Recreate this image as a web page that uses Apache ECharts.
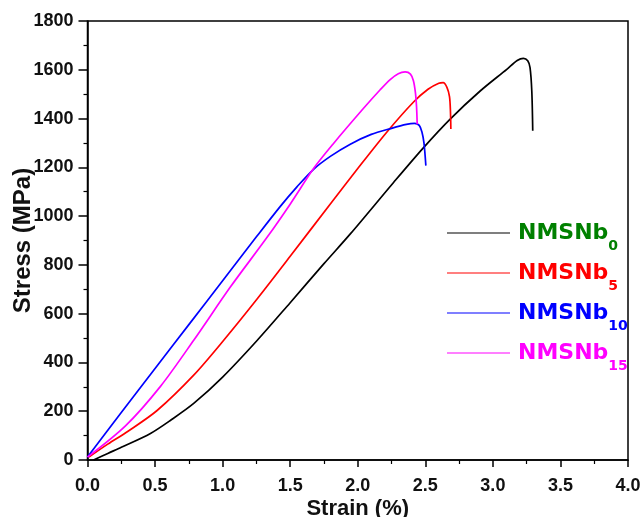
<!DOCTYPE html>
<html>
<head>
<meta charset="utf-8">
<script src="https://cdn.jsdelivr.net/npm/echarts@6/dist/echarts.min.js"></script>
<style>
  html, body { margin: 0; padding: 0; background: #fff; }
  #chart { width: 644px; height: 517px; }
</style>
</head>
<body>
<div id="chart"></div>
<script>
// Tensile stress-strain curves: strain (%) and stress (MPa) pairs per alloy
const strainNb0 = [0.045, 0.15, 0.25, 0.466, 0.62, 0.786, 1.0, 1.255, 1.5, 1.75, 1.945, 2.265, 2.487, 2.684, 2.906, 3.103, 3.18, 3.226, 3.258, 3.275, 3.288, 3.295];
const stressNb0 = [0, 27, 52, 109, 165, 232, 340, 490, 645, 805, 927, 1138, 1281, 1398, 1513, 1602, 1638, 1647, 1637, 1609, 1513, 1350];

const strainNb5 = [0.01, 0.15, 0.3, 0.515, 0.786, 1.008, 1.255, 1.5, 1.797, 2.0, 2.216, 2.413, 2.52, 2.6, 2.632, 2.66, 2.679, 2.686, 2.689];
const stressNb5 = [12, 65, 118, 203, 348, 491, 660, 835, 1050, 1195, 1345, 1468, 1520, 1545, 1547, 1528, 1490, 1430, 1357];

const strainNb10 = [0.0, 0.25, 0.5, 0.75, 1.0, 1.25, 1.427, 1.55, 1.673, 1.797, 1.945, 2.1, 2.25, 2.36, 2.42, 2.455, 2.475, 2.49, 2.504];
const stressNb10 = [12, 195, 375, 555, 735, 915, 1040, 1120, 1192, 1245, 1295, 1335, 1360, 1376, 1380, 1372, 1345, 1300, 1207];

const strainNb15 = [0.0, 0.281, 0.54, 0.786, 1.057, 1.329, 1.501, 1.673, 1.821, 2.043, 2.166, 2.24, 2.3, 2.351, 2.39, 2.412, 2.427, 2.435, 2.44];
const stressNb15 = [12, 140, 302, 491, 709, 913, 1050, 1195, 1298, 1442, 1518, 1560, 1584, 1591, 1582, 1555, 1505, 1450, 1377];

const yTickLabels = ['0', '200', '400', '600', '800', '1000', '1200', '1400', '1600', '1800'];

const seriesNames = ['NMSNb0', 'NMSNb5', 'NMSNb10', 'NMSNb15'];
const lineColors = ['#000000', '#ff0000', '#0000ff', '#ff00ff'];
const labelColors = ['#008000', '#ff0000', '#0000ff', '#ff00ff'];

function pairs(xs, ys) {
  return xs.map((x, i) => [x, ys[i]]);
}
const curves = [
  pairs(strainNb0, stressNb0),
  pairs(strainNb5, stressNb5),
  pairs(strainNb10, stressNb10),
  pairs(strainNb15, stressNb15)
];

const chart = echarts.init(document.getElementById('chart'), null, { renderer: 'canvas' });

const axisFont = { fontFamily: 'Liberation Sans, Arial, sans-serif', fontWeight: 'bold', color: '#111' };

chart.setOption({
  backgroundColor: '#ffffff',
  animation: false,
  grid: {
    left: 87.5, right: 16, top: 21, bottom: 57,
    containLabel: false, outerBoundsMode: 'none',
    show: true, borderColor: '#000', borderWidth: 1.5
  },
  legend: {
    orient: 'vertical',
    left: 447, top: 222, padding: 0,
    itemWidth: 63, itemHeight: 10, itemGap: 9,
    icon: 'path://M0,4.5 L63,4.5 L63,5.5 L0,5.5 Z',
    data: seriesNames.map((n, i) => ({
      name: n,
      textStyle: { color: labelColors[i] }
    })),
    formatter: name => '{a|NMSNb}{s|' + name.slice(5) + '}',
    textStyle: {
      rich: {
        a: {
          fontFamily: 'DejaVu Sans, sans-serif', fontWeight: 'bold',
          fontSize: 22, lineHeight: 40, verticalAlign: 'middle', padding: [0, 0, 0, 3]
        },
        s: {
          fontFamily: 'DejaVu Sans, sans-serif', fontWeight: 'bold',
          fontSize: 14, lineHeight: 24, verticalAlign: 'bottom'
        }
      }
    }
  },
  xAxis: {
    type: 'value',
    min: 0, max: 4, interval: 0.5,
    name: 'Strain (%)',
    nameLocation: 'middle', nameGap: 38, nameMoveOverlap: false,
    nameTextStyle: Object.assign({ fontSize: 22 }, axisFont),
    axisLine: { show: true, lineStyle: { color: '#000', width: 1.5 } },
    axisTick: { show: true, inside: false, length: 7, lineStyle: { color: '#000', width: 1.5 } },
    minorTick: { show: true, splitNumber: 2, length: 4, lineStyle: { color: '#000', width: 1.2 } },
    splitLine: { show: false },
    axisLabel: Object.assign({ fontSize: 18, margin: 17, formatter: v => v.toFixed(1) }, axisFont)
  },
  yAxis: {
    type: 'value',
    min: 0, max: 1800, interval: 200,
    name: 'Stress (MPa)',
    nameLocation: 'middle', nameGap: 52, nameMoveOverlap: false,
    nameTextStyle: Object.assign({ fontSize: 24 }, axisFont),
    axisLine: { show: true, lineStyle: { color: '#000', width: 1.5 } },
    axisTick: { show: true, inside: false, length: 9, lineStyle: { color: '#000', width: 1.5 } },
    minorTick: { show: true, splitNumber: 2, length: 4, lineStyle: { color: '#000', width: 1.2 } },
    splitLine: { show: false },
    axisLabel: Object.assign({
      fontSize: 18, margin: 14,
      formatter: v => yTickLabels[Math.round(v / 200)]
    }, axisFont)
  },
  series: curves.map((data, i) => ({
    name: seriesNames[i],
    type: 'line',
    data: data,
    symbol: 'none',
    smooth: 0.3,
    clip: true,
    lineStyle: { color: lineColors[i], width: 1.7 },
    itemStyle: { color: lineColors[i] }
  }))
});
</script>
</body>
</html>
